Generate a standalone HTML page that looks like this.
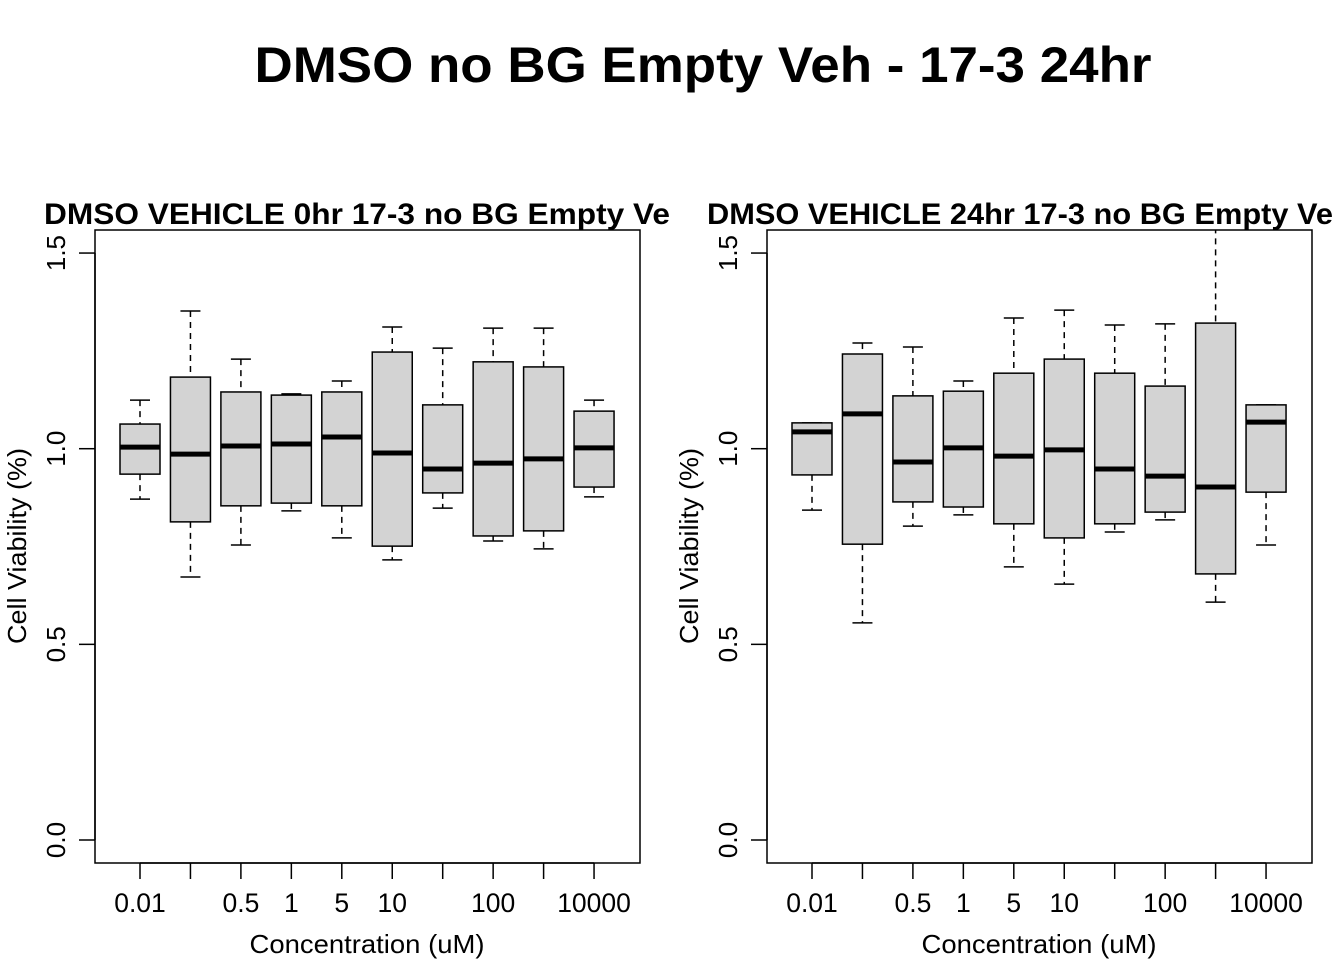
<!DOCTYPE html>
<html><head><meta charset="utf-8"><style>body{margin:0;background:#fff}svg{display:block}</style></head>
<body>
<svg id="chart" width="1344" height="960" xmlns="http://www.w3.org/2000/svg" font-family="Liberation Sans, Arial, sans-serif">
<text x="703" y="82" font-size="50" font-weight="bold" text-anchor="middle" textLength="897" lengthAdjust="spacingAndGlyphs">DMSO no BG Empty Veh - 17-3 24hr</text>
</svg>
<script>
const categories=["0.01","","0.5","1","5","10","","100","","10000"];
const yTicks=[0,0.5,1.0,1.5];
const yTickLabels=["0.0","0.5","1.0","1.5"];
const panel1Title="DMSO VEHICLE 0hr 17-3 no BG Empty Ve";
const panel2Title="DMSO VEHICLE 24hr 17-3 no BG Empty Ve";
// [lowWhisker, Q1, median, Q3, highWhisker]
const panel1Stats=[[0.871,0.935,1.004,1.063,1.124],[0.672,0.813,0.986,1.183,1.352],[0.754,0.854,1.007,1.145,1.229],[0.841,0.861,1.012,1.137,1.140],[0.772,0.854,1.030,1.145,1.173],[0.716,0.751,0.989,1.247,1.311],[0.848,0.887,0.948,1.112,1.257],[0.764,0.777,0.963,1.222,1.308],[0.744,0.790,0.974,1.209,1.308],[0.877,0.902,1.002,1.096,1.124]];
const panel2Stats=[[0.843,0.933,1.043,1.066,1.066],[0.555,0.756,1.089,1.242,1.270],[0.802,0.864,0.966,1.135,1.260],[0.831,0.851,1.002,1.147,1.173],[0.698,0.808,0.981,1.193,1.334],[0.654,0.772,0.997,1.229,1.354],[0.787,0.808,0.948,1.193,1.316],[0.818,0.838,0.930,1.160,1.319],[0.608,0.680,0.902,1.321,1.65],[0.754,0.889,1.068,1.112,1.112]];
const NS="http://www.w3.org/2000/svg";
const svg=document.getElementById('chart');
function mk(tag,attrs,parent){const e=document.createElementNS(NS,tag);for(const k in attrs)e.setAttribute(k,attrs[k]);(parent||svg).appendChild(e);return e;}
function drawPanel(x0,title,stats,idx){
  const g=mk('g',{});
  
  
  const left=x0,right=x0+545,top=230,bottom=863;
  const y=v=>840-v*391.3;
  const x=i=>left+45+i*50.45;
  const cid='clip'+idx;
  const cp=mk('clipPath',{id:cid},g);mk('rect',{x:left,y:top,width:545,height:bottom-top},cp);
  const t=mk('text',{x:left+(idx==1?-51:-60),y:224,'font-size':30,'font-weight':'bold',textLength:626,lengthAdjust:'spacingAndGlyphs'},g);t.textContent=title;
  
  
  const frame=mk('rect',{x:left,y:top,width:545,height:bottom-top,fill:'none',stroke:'#000','stroke-width':1.5},g);
  
  
  yTicks.forEach((v,i)=>{mk('line',{x1:left-16,x2:left,y1:y(v),y2:y(v),stroke:'#000','stroke-width':1.5},g);
    const l=mk('text',{x:0,y:0,'font-size':26,'text-anchor':'middle',transform:`translate(${left-30},${y(v)}) rotate(-90)`},g);l.textContent=yTickLabels[i];
    
    });
  mk('line',{x1:left,x2:left,y1:y(0),y2:y(1.5),stroke:'#000','stroke-width':1.5},g);
  mk('line',{x1:x(0),x2:x(9),y1:bottom,y2:bottom,stroke:'#000','stroke-width':1.5},g);
  const yl=mk('text',{'font-size':26,'text-anchor':'middle',transform:`translate(${left-69},${546}) rotate(-90)`,textLength:196,lengthAdjust:'spacingAndGlyphs'},g);yl.textContent='Cell Viability (%)';
  
  
  const xl=mk('text',{x:left+272,y:953,'font-size':26,'text-anchor':'middle',textLength:235,lengthAdjust:'spacingAndGlyphs'},g);xl.textContent='Concentration (uM)';
  
  
  categories.forEach((c,i)=>{mk('line',{x1:x(i),x2:x(i),y1:bottom,y2:bottom+16,stroke:'#000','stroke-width':1.5},g);
    const l=mk('text',{x:x(i),y:912,'font-size':26.5,'text-anchor':'middle'},g);l.textContent=c;
    
    });
  const bg=mk('g',{'clip-path':`url(#${cid})`},g);
  stats.forEach((s,i)=>{const cx=x(i);
    const b=mk('g',{},bg);
    
    
    mk('line',{x1:cx,x2:cx,y1:y(s[4]),y2:y(s[3]),stroke:'#000','stroke-width':1.5,'stroke-dasharray':'6,5'},b);
    mk('line',{x1:cx,x2:cx,y1:y(s[1]),y2:y(s[0]),stroke:'#000','stroke-width':1.5,'stroke-dasharray':'6,5'},b);
    mk('line',{x1:cx-10,x2:cx+10,y1:y(s[4]),y2:y(s[4]),stroke:'#000','stroke-width':1.5},b);
    mk('line',{x1:cx-10,x2:cx+10,y1:y(s[0]),y2:y(s[0]),stroke:'#000','stroke-width':1.5},b);
    mk('rect',{x:cx-20,y:y(s[3]),width:40,height:y(s[1])-y(s[3]),fill:'#d3d3d3',stroke:'#000','stroke-width':1.5},b);
    mk('line',{x1:cx-20,x2:cx+20,y1:y(s[2]),y2:y(s[2]),stroke:'#000','stroke-width':5},b);
  });
}
drawPanel(95,panel1Title,panel1Stats,1);
drawPanel(767,panel2Title,panel2Stats,2);
</script>
</body></html>
